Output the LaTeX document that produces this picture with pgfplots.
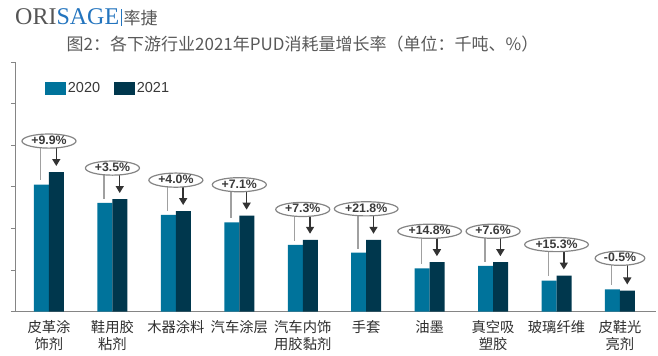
\documentclass[border=0pt]{standalone}
\usepackage{pgfplots}
\pgfplotsset{compat=1.18}
\usepackage{fontspec}
\setmainfont{Liberation Sans}
\newfontfamily\cjk{Noto Sans CJK SC}
\newfontfamily\lserif{Liberation Serif}
\usetikzlibrary{shapes.geometric,arrows.meta}
\definecolor{cA}{HTML}{00739B}
\definecolor{cB}{HTML}{00374D}
\definecolor{titlegray}{HTML}{595959}
\definecolor{logoblue}{HTML}{2374BE}
\definecolor{logogray}{HTML}{555555}
\definecolor{axgray}{HTML}{858585}
\definecolor{pctgray}{HTML}{3A3A3A}
\definecolor{lngray}{HTML}{A0A0A0}
\definecolor{arr}{HTML}{333333}
\tikzset{
  pct/.style={ellipse, draw=axgray, line width=1.2bp, fill=white, inner xsep=1.5bp, inner ysep=0pt,
    text height=8.5bp, text depth=1.5bp, font=\bfseries\fontsize{12.3bp}{13bp}\selectfont, text=pctgray},
  gl/.style={draw=lngray, line width=1.5bp},
  ar/.style={draw=arr, line width=1.5bp, -{Triangle[width=8bp,length=7bp]}}
}
\begin{document}
\begin{tikzpicture}
\path[use as bounding box] (0,0) rectangle (658bp,356bp);
\begin{axis}[at={(16bp,44.3bp)}, anchor=south west, scale only axis,
  width=640bp, height=249.4bp,
  xmin=-0.52, xmax=9.568, ymin=0, ymax=60,
  axis lines=left, axis line style={-, draw=axgray, line width=1bp},
  ytick={0,10,...,60}, yticklabels={}, ytick style={draw=axgray, line width=1bp},
  tick align=outside, major tick length=5bp,
  xtick={0,...,9}, xtick style={draw=none},
  xticklabels={{皮革涂\\饰剂},{鞋用胶\\粘剂},木器涂料,汽车涂层,{汽车内饰\\用胶黏剂},手套,油墨,{真空吸\\塑胶},玻璃纤维,{皮鞋光\\亮剂}},
  xticklabel style={font=\cjk\fontsize{14.3bp}{17.3bp}\selectfont, align=center, text=black!82},
  ybar=0pt, bar width=15bp, clip=false,
  legend style={at={(axis description cs:0.0453,0.896)}, anchor=west, draw=none, fill=none,
    font=\fontsize{14.5bp}{16bp}\selectfont, text=black!78, legend columns=2,
    /tikz/every even column/.append style={column sep=12bp}, inner sep=0pt},
]
\addplot[fill=cA, draw=none, legend image code/.code={\fill[cA] (0bp,-6.7bp) rectangle (20.7bp,6.7bp);}]
  coordinates {(0,30.6) (1,26.2) (2,23.3) (3,21.5) (4,16.1) (5,14.2) (6,10.4) (7,11.0) (8,7.5) (9,5.4)};
\addlegendentry{2020}
\addplot[fill=cB, draw=none, legend image code/.code={\fill[cB] (0bp,-6.7bp) rectangle (20.7bp,6.7bp);}]
  coordinates {(0,33.6) (1,27.1) (2,24.2) (3,23.1) (4,17.3) (5,17.3) (6,11.9) (7,11.9) (8,8.7) (9,5.1)};
\addlegendentry{2021}
% annotations
\draw[gl] (axis cs:-0.13,41.05) -- (axis cs:-0.13,31.6);
\draw[ar] (axis cs:0.115,41.05) -- (axis cs:0.115,35.05);
\draw[gl] (axis cs:0.87,34.55) -- (axis cs:0.87,27.2);
\draw[ar] (axis cs:1.115,34.55) -- (axis cs:1.115,28.55);
\draw[gl] (axis cs:1.87,31.65) -- (axis cs:1.87,24.3);
\draw[ar] (axis cs:2.115,31.65) -- (axis cs:2.115,25.65);
\draw[gl] (axis cs:2.87,30.55) -- (axis cs:2.87,22.5);
\draw[ar] (axis cs:3.115,30.55) -- (axis cs:3.115,24.55);
\draw[gl] (axis cs:3.87,24.6) -- (axis cs:3.87,17.1);
\draw[ar] (axis cs:4.115,24.6) -- (axis cs:4.115,18.75);
\draw[gl] (axis cs:4.87,24.75) -- (axis cs:4.87,15.2);
\draw[ar] (axis cs:5.115,24.75) -- (axis cs:5.115,18.75);
\draw[gl] (axis cs:5.87,19.35) -- (axis cs:5.87,11.4);
\draw[ar] (axis cs:6.115,19.35) -- (axis cs:6.115,13.35);
\draw[gl] (axis cs:6.87,19.35) -- (axis cs:6.87,12.0);
\draw[ar] (axis cs:7.115,19.35) -- (axis cs:7.115,13.35);
\draw[gl] (axis cs:7.87,16.15) -- (axis cs:7.87,8.5);
\draw[ar] (axis cs:8.115,16.15) -- (axis cs:8.115,10.15);
\draw[gl] (axis cs:8.87,12.85) -- (axis cs:8.87,6.4);
\draw[ar] (axis cs:9.115,12.85) -- (axis cs:9.115,6.55);
\node[pct] at (axis cs:0,41.05) {+9.9\%};
\node[pct] at (axis cs:1,34.55) {+3.5\%};
\node[pct] at (axis cs:2,31.65) {+4.0\%};
\node[pct] at (axis cs:3,30.55) {+7.1\%};
\node[pct] at (axis cs:4,24.6) {+7.3\%};
\node[pct] at (axis cs:5,24.75) {+21.8\%};
\node[pct] at (axis cs:6,19.35) {+14.8\%};
\node[pct] at (axis cs:7,19.35) {+7.6\%};
\node[pct] at (axis cs:8,16.15) {+15.3\%};
\node[pct] at (axis cs:9,12.85) {-0.5\%};
\end{axis}
\node[anchor=center, text=titlegray, font=\cjk\fontsize{17bp}{20bp}\selectfont] at (302.5bp,312bp)
  {图2：各下游行业2021年PUD消耗量增长率（单位：千吨、\%）};
\node[anchor=base west, inner sep=0pt] at (15bp,331bp)
  {\lserif\fontsize{24bp}{24bp}\selectfont\textcolor{logogray}{ORI}\textcolor{logoblue}{SAGE}\hspace{1.5bp}\textcolor{logoblue}{\rule[-1bp]{0.8bp}{17bp}}\hspace{2bp}\textcolor{logogray}{\cjk\fontsize{17bp}{17bp}\selectfont 率捷}};
\end{tikzpicture}
\end{document}
